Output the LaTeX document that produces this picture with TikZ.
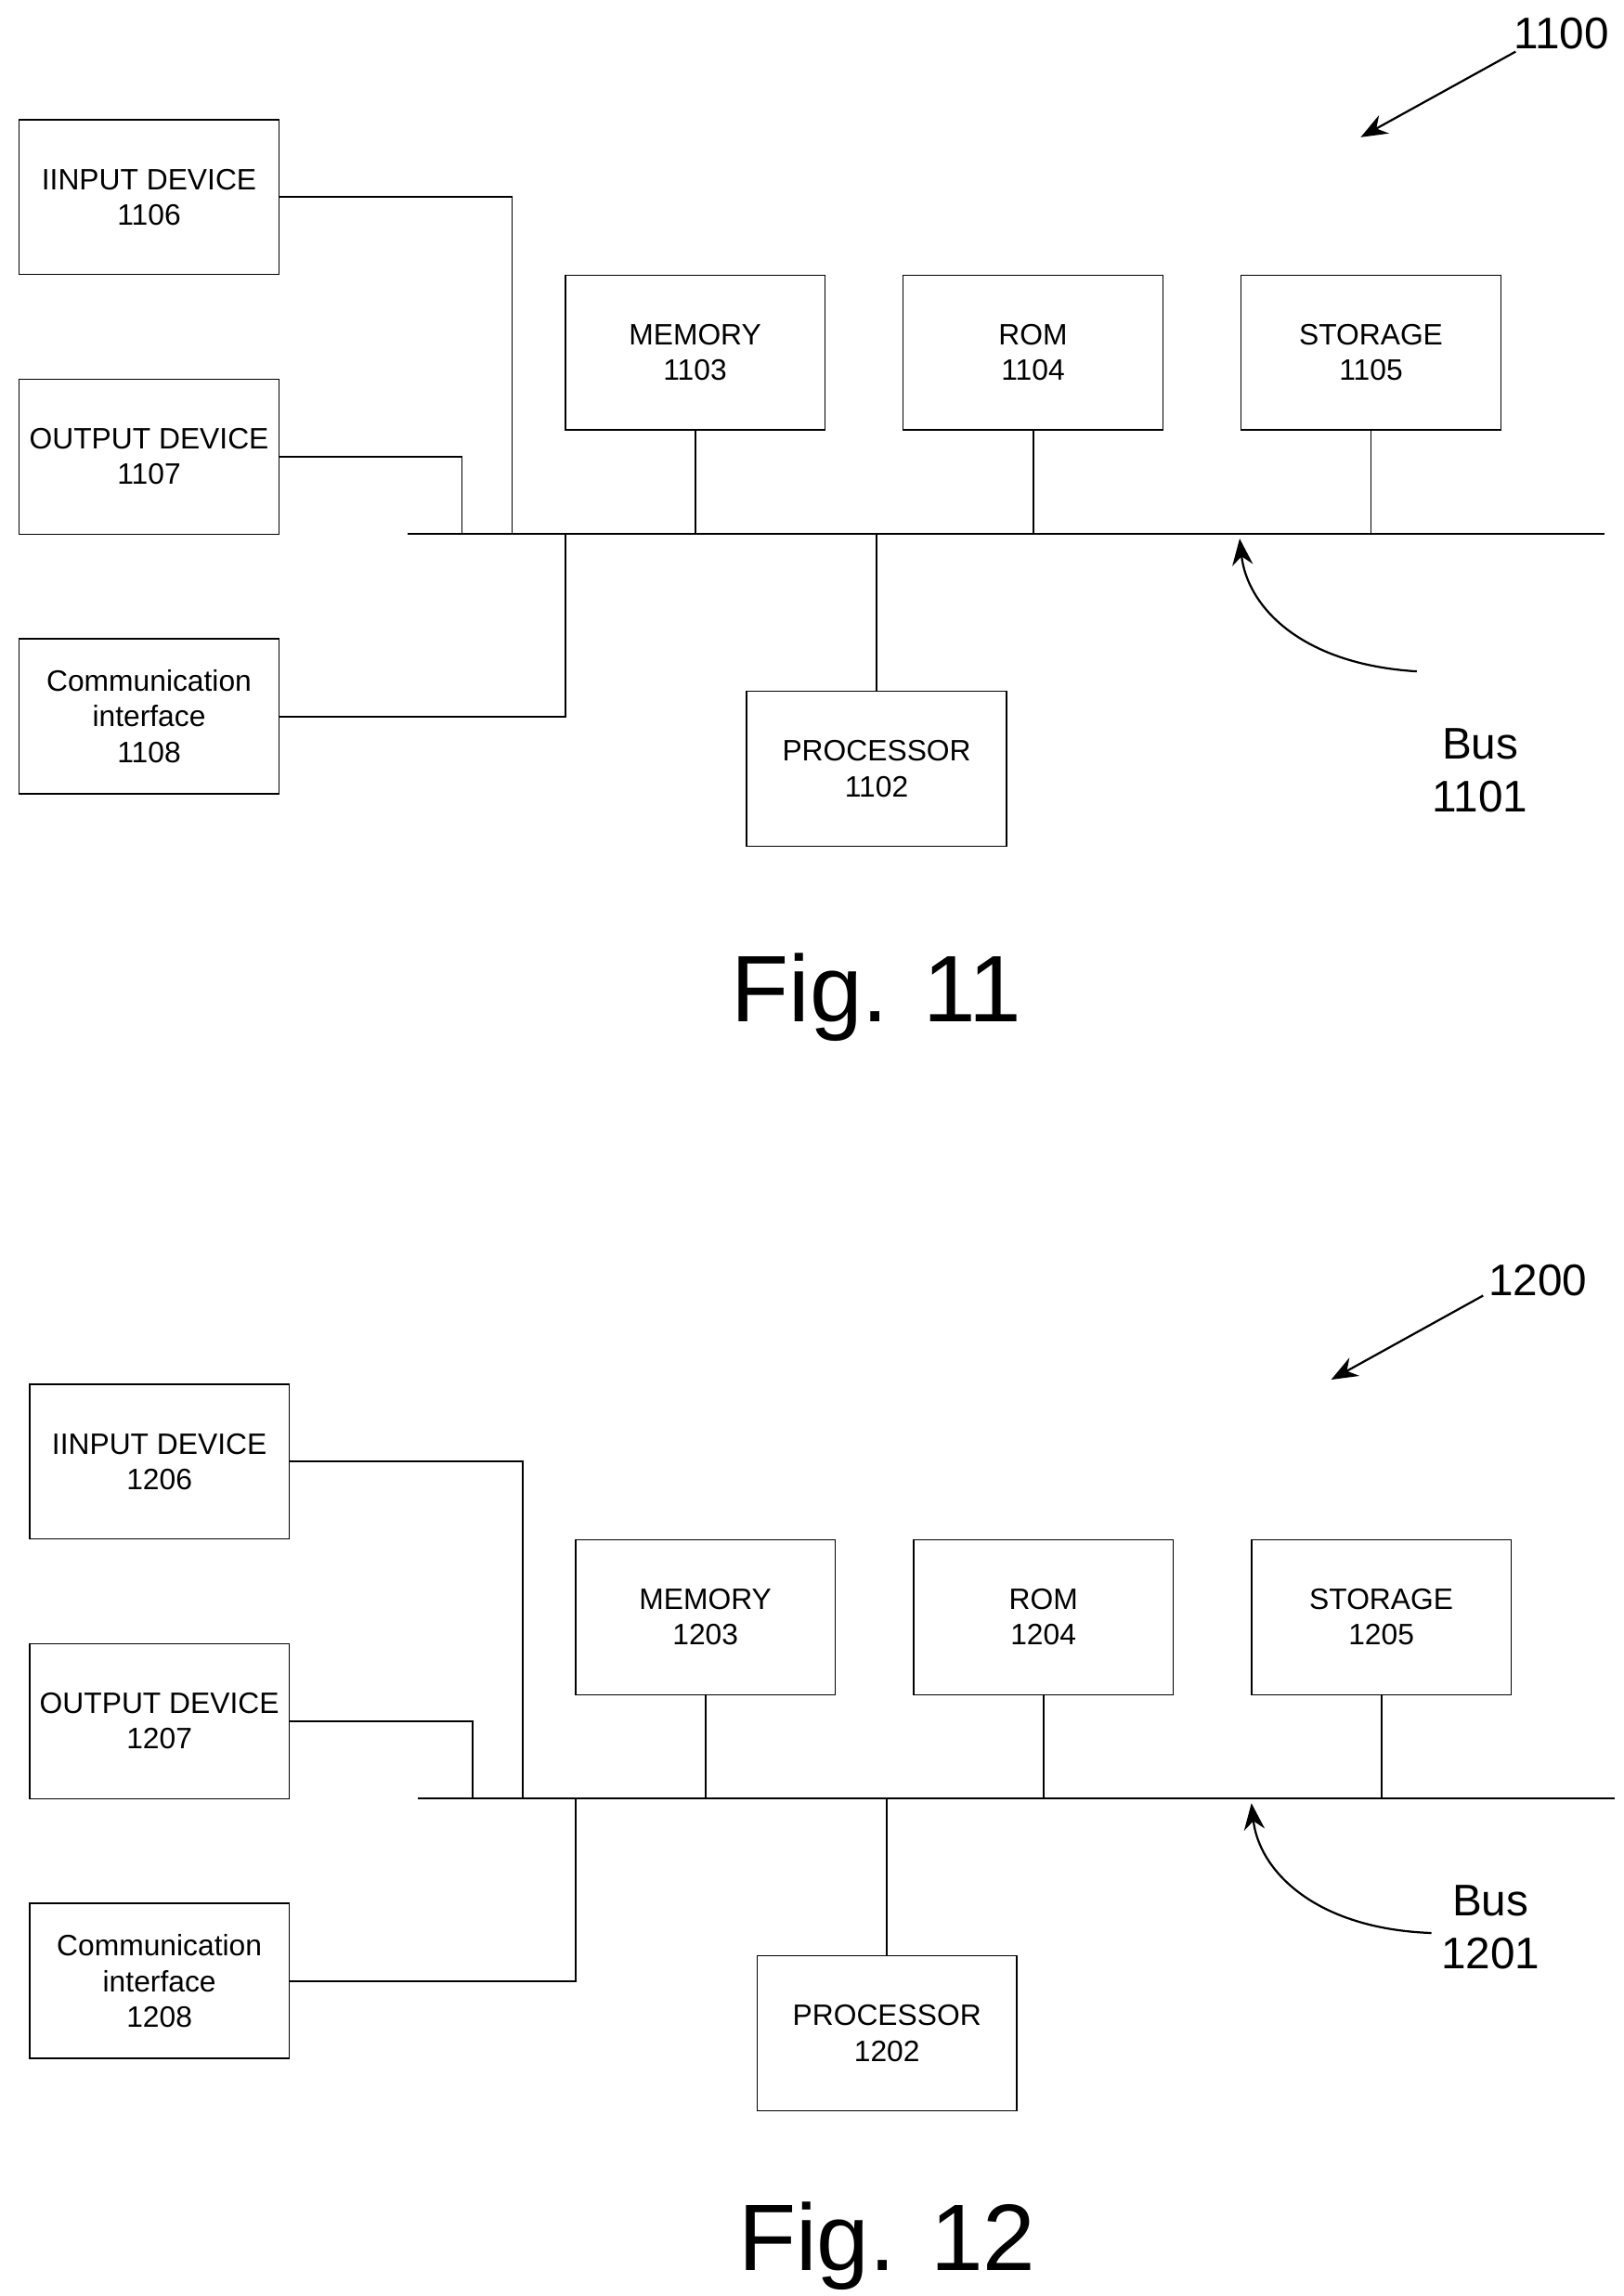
\documentclass[tikz,border=0pt]{standalone}
\usepackage{fontspec}
\setmainfont{Liberation Sans}
\usetikzlibrary{arrows.meta}

\tikzset{
  unit/.style={draw, line width=0.5pt, minimum width=88pt, minimum height=52.5pt,
    align=center, font=\fontsize{10}{12}\selectfont, inner sep=0pt},
  wire/.style={line width=0.6pt},
  callout/.style={line width=0.7pt, -{Stealth[length=9pt,width=7pt]}},
}

% common part of both figures, #1 = figure number
\newcommand{\busdiagram}[1]{
  \node[unit] (input) at (101,133.5) {IINPUT DEVICE\\#106};
  \node[unit] (output) at (101,309.5) {OUTPUT DEVICE\\#107};
  \node[unit] (comm) at (101,485.5) {Communication\\interface\\#108};
  \node[unit] (memory) at (471,239) {MEMORY\\#103};
  \node[unit] (rom) at (700,239) {ROM\\#104};
  \node[unit] (storage) at (929,239) {STORAGE\\#105};
  \node[unit] (processor) at (594,521) {PROCESSOR\\#102};
  \coordinate (bus left) at (276,362);
  \coordinate (bus right) at (1087,362);
  \draw[wire] (bus left) -- (bus right);
  \draw[wire] (input.east) -- (347,133.5) -- (347,362);
  \draw[wire] (output.east) -- (313,309.5) -- (313,362);
  \draw[wire] (comm.east) -- (383,485.5) -- (383,362);
  \draw[wire] (memory.south) -- (memory.south |- bus left);
  \draw[wire] (rom.south) -- (rom.south |- bus left);
  \draw[wire] (storage.south) -- (storage.south |- bus left);
  \draw[wire] (processor.north) -- (processor.north |- bus left);
}

\begin{document}
\begin{tikzpicture}[x=0.5pt, y=-0.5pt]
  \useasboundingbox (0,0) rectangle (1100,1556);

  % Fig. 11
  \busdiagram{11}
  \coordinate (bus tip) at (840,365);
  \coordinate (bus tail) at (960,455);
  \draw[callout] (bus tail) .. controls (880,450) and (845,410) .. (bus tip);
  \node[align=center, font=\fontsize{15}{18}\selectfont] (bus label) at (1003,522) {Bus\\1101};
  \node[font=\fontsize{15}{18}\selectfont] (ref) at (1058,23) {1100};
  \coordinate (ref tail) at (1027,35);
  \coordinate (ref tip) at (922,93);
  \draw[callout] (ref tail) -- (ref tip);
  \node[font=\fontsize{32}{36}\selectfont] (fig) at (594,676) {Fig. 11};

  % Fig. 12
  \begin{scope}[shift={(7,857)}]
    \busdiagram{12}
    \coordinate (bus tip) at (841,365);
    \coordinate (bus tail) at (963,453);
    \draw[callout] (bus tail) .. controls (883,450) and (846,410) .. (bus tip);
    \node[align=center, font=\fontsize{15}{18}\selectfont] (bus label) at (1003,449) {Bus\\1201};
    \node[font=\fontsize{15}{18}\selectfont] (ref) at (1035,11) {1200};
    \coordinate (ref tail) at (998,21);
    \coordinate (ref tip) at (895,78);
    \draw[callout] (ref tail) -- (ref tip);
    \node[font=\fontsize{32}{36}\selectfont] (fig) at (594,665) {Fig. 12};
  \end{scope}
\end{tikzpicture}
\end{document}
